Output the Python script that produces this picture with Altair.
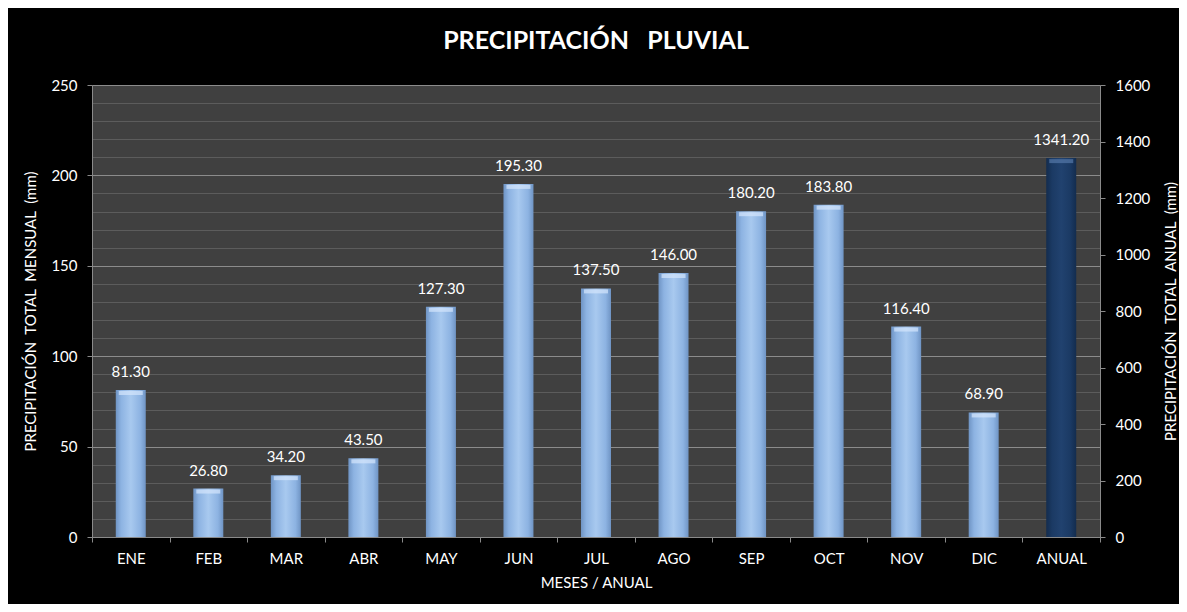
import altair as alt
import pandas as pd

meses = ["ENE", "FEB", "MAR", "ABR", "MAY", "JUN", "JUL", "AGO", "SEP", "OCT", "NOV", "DIC"]
valores_mensuales = [81.30, 26.80, 34.20, 43.50, 127.30, 195.30, 137.50, 146.00, 180.20, 183.80, 116.40, 68.90]
categoria_anual = ["ANUAL"]
valor_anual = [1341.20]
ticks_mensual = list(range(0, 251, 10))
ticks_anual = list(range(0, 1601, 200))

orden = meses + categoria_anual
df_m = pd.DataFrame({"mes": meses, "valor": valores_mensuales})
df_a = pd.DataFrame({"mes": categoria_anual, "valor": valor_anual})

FONT = "Lato"
NB = "\u00a0"

x_enc = alt.X("mes:N", sort=orden,
              scale=alt.Scale(domain=orden, paddingInner=0, paddingOuter=0),
              axis=alt.Axis(title="MESES / ANUAL", labelAngle=0, tickBand="extent",
                            domainColor="#8a8a8a", tickColor="#8a8a8a", tickSize=5,
                            labelColor="white", labelFontSize=15, labelFont=FONT,
                            labelPadding=9, titleColor="white", titleFont=FONT,
                            titleFontSize=15, titleFontWeight="normal", titlePadding=9,
                            grid=False))

light_grad = alt.LinearGradient(
    gradient="linear", x1=0, x2=1, y1=0, y2=0,
    stops=[alt.GradientStop(color="#6f94c4", offset=0),
           alt.GradientStop(color="#8db3e2", offset=0.18),
           alt.GradientStop(color="#a8c9ef", offset=0.5),
           alt.GradientStop(color="#8db3e2", offset=0.82),
           alt.GradientStop(color="#6f94c4", offset=1)])
dark_grad = alt.LinearGradient(
    gradient="linear", x1=0, x2=1, y1=0, y2=0,
    stops=[alt.GradientStop(color="#132c4e", offset=0),
           alt.GradientStop(color="#1b3a64", offset=0.2),
           alt.GradientStop(color="#21426f", offset=0.5),
           alt.GradientStop(color="#1b3a64", offset=0.8),
           alt.GradientStop(color="#132c4e", offset=1)])

y_m = alt.Y("valor:Q", scale=alt.Scale(domain=[0, 250], nice=False),
            axis=alt.Axis(title=f"PRECIPITACIÓN{NB}{NB}TOTAL{NB}{NB}MENSUAL{NB}{NB}(mm)",
                          values=ticks_mensual, format="d",
                          labelExpr="datum.value % 50 === 0 ? datum.label : ''",
                          gridColor={"condition": {"test": "datum.value % 50 === 0", "value": "#8c8c8c"},
                                     "value": "#5c5c5c"},
                          tickOpacity={"condition": {"test": "datum.value % 50 === 0", "value": 1},
                                       "value": 0},
                          grid=True, gridWidth=1, domainColor="#8a8a8a", tickColor="#8a8a8a",
                          tickSize=5, labelColor="white", labelFontSize=15, labelFont=FONT,
                          labelPadding=10, titleColor="white", titleFont=FONT, titleFontSize=15,
                          titleFontWeight="normal", titleAngle=-90, titleX=-62, titleY=226,
                          titleAlign="center", titleBaseline="middle"))

y_a = alt.Y("valor:Q", scale=alt.Scale(domain=[0, 1600], nice=False),
            axis=alt.Axis(title=f"PRECIPITACIÓN{NB}{NB}TOTAL{NB}{NB}ANUAL{NB}{NB}(mm)",
                          orient="right", values=ticks_anual, format="d", grid=False,
                          domainColor="#8a8a8a", tickColor="#8a8a8a", tickSize=5,
                          labelColor="white", labelFontSize=15, labelFont=FONT, labelPadding=10,
                          titleColor="white", titleFont=FONT, titleFontSize=15,
                          titleFontWeight="normal", titleAngle=-90, titleX=70, titleY=226,
                          titleAlign="center", titleBaseline="middle"))

base_m = alt.Chart(df_m).encode(x=x_enc, y=y_m)
bars_m = base_m.mark_bar(color=light_grad, width=30)
cap_m = base_m.mark_tick(color="#d4e6fc", thickness=4, size=24, yOffset=3, opacity=0.7)
text_m = base_m.mark_text(dy=-18, color="white", fontSize=15, font=FONT).encode(
    text=alt.Text("valor:Q", format=".2f"))

base_a = alt.Chart(df_a).encode(x=x_enc, y=y_a)
bars_a = base_a.mark_bar(color=dark_grad, width=30)
cap_a = base_a.mark_tick(color="#5478a8", thickness=4, size=24, yOffset=3, opacity=0.7)
text_a = base_a.mark_text(dy=-18, color="white", fontSize=15, font=FONT).encode(
    text=alt.Text("valor:Q", format=".2f"))

chart = alt.layer(
    alt.layer(bars_m, cap_m, text_m),
    alt.layer(bars_a, cap_a, text_a),
).resolve_scale(y="independent").properties(
    width=1008, height=452,
    background="black",
    padding={"left": 84, "top": 77, "right": 79, "bottom": 67},
    autosize=alt.AutoSizeParams(type="none"),
    title=alt.TitleParams(f"PRECIPITACIÓN{NB}{NB}{NB}PLUVIAL", color="white", fontSize=25,
                          font=FONT, fontWeight="bold", anchor="middle", offset=24),
).configure_view(fill="#404040", stroke="transparent")

chart.save("out.html", embed_options={"renderer": "svg", "actions": False})
